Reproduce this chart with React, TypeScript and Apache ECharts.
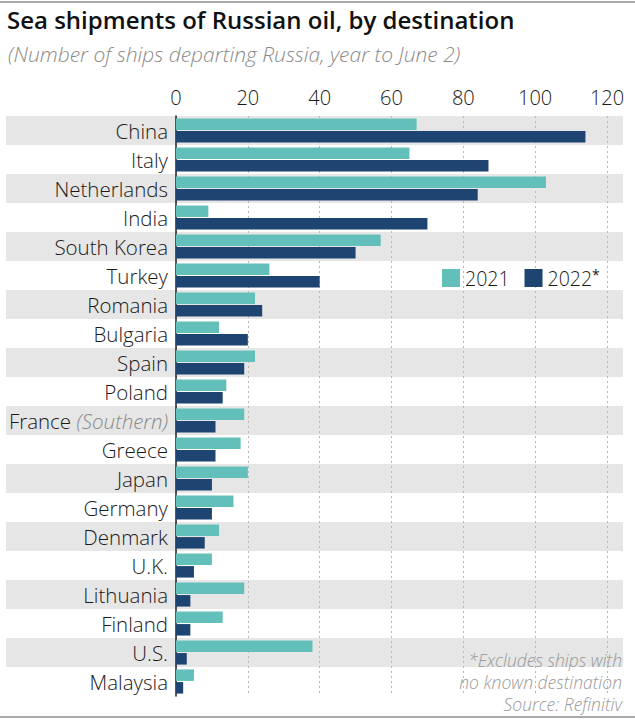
import React, { useEffect, useRef } from "react";
import * as echarts from "echarts";

const countries = [
  "China", "Italy", "Netherlands", "India", "South Korea", "Turkey", "Romania",
  "Bulgaria", "Spain", "Poland", "France (Southern)", "Greece", "Japan", "Germany",
  "Denmark", "U.K.", "Lithuania", "Finland", "U.S.", "Malaysia",
];
const values2021 = [67, 65, 103, 9, 57, 26, 22, 12, 22, 14, 19, 18, 20, 16, 12, 10, 19, 13, 38, 5];
const values2022 = [114, 87, 84, 70, 50, 40, 24, 20, 19, 13, 11, 11, 10, 10, 8, 5, 4, 4, 3, 2];
const xTicks = { min: 0, max: 120, interval: 20 };

const TITLE = "Sea shipments of Russian oil, by destination";
const SUBTITLE = "(Number of ships departing Russia, year to June 2)";
const FOOT = ["*Excludes ships with", "no known destination", "Source: Refinitiv"];

const FONT = "'Open Sans', 'Noto Sans', sans-serif";
const TEAL = "#62bfb9";
const NAVY = "#1e4572";

export default function App() {
  const ref = useRef<HTMLDivElement>(null);
  useEffect(() => {
    document.body.style.margin = "0";
    const chart = echarts.init(ref.current!, null, { renderer: "svg" });
    const gridPos = { top: 116, bottom: 30 };
    chart.setOption({
      animation: false,
      backgroundColor: "#ffffff",
      textStyle: { fontFamily: FONT },
      grid: [
        { left: 6, right: 12, ...gridPos },
        { left: 176, right: 28, ...gridPos },
      ],
      xAxis: [
        { gridIndex: 0, type: "value", show: false, min: 0, max: 1 },
        {
          gridIndex: 1,
          type: "value",
          position: "top",
          min: xTicks.min,
          max: xTicks.max,
          interval: xTicks.interval,
          axisLine: { show: false },
          axisTick: { show: false },
          axisLabel: { color: "#1a1a1a", fontSize: 20, margin: 9, fontFamily: FONT, fontWeight: 300 },
          splitLine: { show: true, lineStyle: { type: [2, 3], color: "#b8b8b8", width: 1 } },
        },
      ],
      yAxis: [
        {
          gridIndex: 0,
          type: "category",
          data: countries,
          inverse: true,
          axisLine: { show: false },
          axisTick: { show: false },
          axisLabel: { show: false },
          splitLine: { show: false },
          splitArea: { show: true, areaStyle: { color: ["#e6e6e6", "#ffffff"] } },
        },
        {
          gridIndex: 1,
          type: "category",
          data: countries,
          inverse: true,
          axisLine: { show: true, lineStyle: { color: "#222", width: 1.5 } },
          axisTick: { show: false },
          axisLabel: {
            margin: 8,
            fontSize: 20.5,
            color: "#1a1a1a",
            fontFamily: FONT,
            formatter: (v: string) => {
              const i = v.indexOf(" (");
              if (i > 0) return `{a|${v.slice(0, i)} }{b|${v.slice(i + 1)}}`;
              return `{a|${v}}`;
            },
            rich: {
              a: { fontSize: 20.5, color: "#1a1a1a", fontFamily: FONT, fontWeight: 300 },
              b: { fontSize: 20.5, color: "#8a8a8a", fontStyle: "italic", fontFamily: FONT, fontWeight: 300 },
            },
          },
        },
      ],
      legend: {
        left: 442,
        top: 267,
        padding: 0,
        icon: "rect",
        itemWidth: 18,
        itemHeight: 18,
        itemGap: 15,
        data: ["2021", "2022"],
        formatter: (n: string) => (n === "2022" ? "{t|2022}{s|*}" : "{t|" + n + "}"),
        textStyle: {
          fontFamily: FONT,
          rich: {
            t: { fontSize: 19.5, color: "#1a1a1a", fontFamily: FONT, fontWeight: 300 },
            s: { fontSize: 14, color: "#1a1a1a", verticalAlign: "top", padding: [0, 0, 8, 0], fontFamily: FONT },
          },
        },
      },
      series: [
        {
          name: "2021",
          type: "bar",
          xAxisIndex: 1,
          yAxisIndex: 1,
          data: values2021,
          barWidth: 11.5,
          barGap: "10%",
          itemStyle: { color: TEAL },
          z: 3,
        },
        {
          name: "2022",
          type: "bar",
          xAxisIndex: 1,
          yAxisIndex: 1,
          data: values2022,
          barWidth: 11.5,
          barGap: "10%",
          itemStyle: { color: NAVY },
          z: 3,
        },
      ],
      graphic: [
        { type: "line", shape: { x1: 0, y1: 2, x2: 635, y2: 2 }, style: { stroke: "#aaaaaa", lineWidth: 2 } },
        { type: "line", shape: { x1: 0, y1: 717, x2: 635, y2: 717 }, style: { stroke: "#aaaaaa", lineWidth: 2 } },
        {
          type: "text",
          left: 7,
          top: 7,
          style: { text: TITLE, font: `600 24px ${FONT}`, fill: "#111" },
        },
        {
          type: "text",
          left: 8,
          top: 43,
          style: { text: SUBTITLE, font: `italic 300 21px ${FONT}`, fill: "#8a8a8a" },
        },
        ...FOOT.map((t, i) => ({
          type: "text",
          z: 10,
          style: {
            x: 622,
            y: 660 + i * 22,
            text: t,
            align: "right",
            verticalAlign: "middle",
            font: `italic 300 17.5px ${FONT}`,
            fill: "#999999",
          },
        })),
      ],
    });
    return () => chart.dispose();
  }, []);
  return <div ref={ref} style={{ width: 635, height: 726 }} />;
}
